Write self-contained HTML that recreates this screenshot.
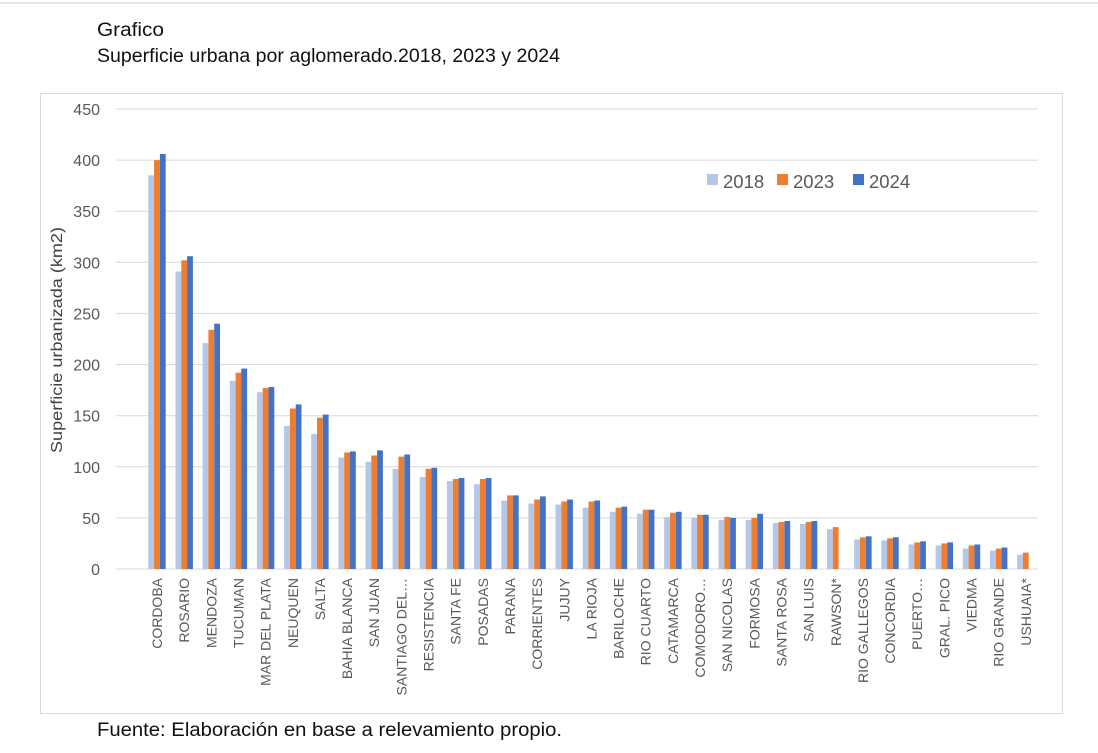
<!DOCTYPE html>
<html><head><meta charset="utf-8">
<style>
body{margin:0;background:#fff;width:1098px;height:748px;overflow:hidden;font-family:"Liberation Sans",sans-serif;}
</style></head>
<body>
<svg id="s" width="1098" height="748" xmlns="http://www.w3.org/2000/svg" font-family="Liberation Sans, sans-serif">
<rect x="0" y="0" width="1098" height="748" fill="#fff"/>
<line x1="0" y1="3" x2="1098" y2="3" stroke="#e6e6e6" stroke-width="2"/>
<text x="97" y="36" font-size="19" fill="#111" textLength="67" lengthAdjust="spacingAndGlyphs">Grafico</text>
<text x="97" y="62" font-size="19" fill="#111" textLength="463" lengthAdjust="spacingAndGlyphs">Superficie urbana por aglomerado.2018, 2023 y 2024</text>
<rect x="40.5" y="93.5" width="1022" height="620" fill="#fff" stroke="#d9d9d9"/>
<text x="97" y="736" font-size="19" fill="#111" textLength="465" lengthAdjust="spacingAndGlyphs">Fuente: Elaboración en base a relevamiento propio.</text>
<g id="g"></g>
<text transform="translate(62,340) rotate(-90)" text-anchor="middle" font-size="16" fill="#404040" textLength="226" lengthAdjust="spacingAndGlyphs">Superficie urbanizada (km2)</text>
<rect x="707" y="174" width="11" height="11" fill="#b4c7e7"/>
<text x="723" y="188" font-size="18.5" fill="#595959">2018</text>
<rect x="777" y="174" width="11" height="11" fill="#ed7d31"/>
<text x="793" y="188" font-size="18.5" fill="#595959">2023</text>
<rect x="853" y="174" width="11" height="11" fill="#4472c4"/>
<text x="869" y="188" font-size="18.5" fill="#595959">2024</text>
</svg>
<script>
var d=[["CORDOBA",385,400,406],["ROSARIO",291,302,306],["MENDOZA",221,234,240],["TUCUMAN",184,192,196],["MAR DEL PLATA",173,177,178],["NEUQUEN",140,157,161],["SALTA",132,148,151],["BAHIA BLANCA",109,114,115],["SAN JUAN",105,111,116],["SANTIAGO DEL…",98,110,112],["RESISTENCIA",90,98,99],["SANTA FE",86,88,89],["POSADAS",83,88,89],["PARANA",67,72,72],["CORRIENTES",64,68,71],["JUJUY",63,66,68],["LA RIOJA",60,66,67],["BARILOCHE",56,60,61],["RIO CUARTO",54,58,58],["CATAMARCA",51,55,56],["COMODORO…",50,53,53],["SAN NICOLAS",48,51,50],["FORMOSA",48,50,54],["SANTA ROSA",45,46,47],["SAN LUIS",44,46,47],["RAWSON*",39,41,0],["RIO GALLEGOS",29,31,32],["CONCORDIA",28,30,31],["PUERTO…",24,26,27],["GRAL. PICO",23,25,26],["VIEDMA",20,23,24],["RIO GRANDE",18,20,21],["USHUAIA*",14,16,0]];
var h='',y0=569,k=460/450,c=['#b4c7e7','#ed7d31','#4472c4'];
for(var v=0;v<=450;v+=50){var y=(y0-v*k).toFixed(1);h+='<line x1="116" y1="'+y+'" x2="1038" y2="'+y+'" stroke="#d9d9d9" stroke-width="1"/>';h+='<text x="100" y="'+(+y+6)+'" text-anchor="end" font-size="16" fill="#595959">'+v+'</text>';}
for(var i=0;i<d.length;i++){var x=148.3+i*27.15;for(var j=0;j<3;j++){var val=d[i][j+1];if(!val)continue;var hh=val*k;h+='<rect x="'+(x+j*5.8).toFixed(1)+'" y="'+(y0-hh).toFixed(1)+'" width="5.8" height="'+hh.toFixed(1)+'" fill="'+c[j]+'"/>';}
var cx=x+8.7+5;h+='<text transform="translate('+cx.toFixed(1)+',578) rotate(-90)" text-anchor="end" font-size="14" fill="#595959">'+d[i][0]+'</text>';}
document.getElementById('g').innerHTML=h;
</script>
</body></html>
